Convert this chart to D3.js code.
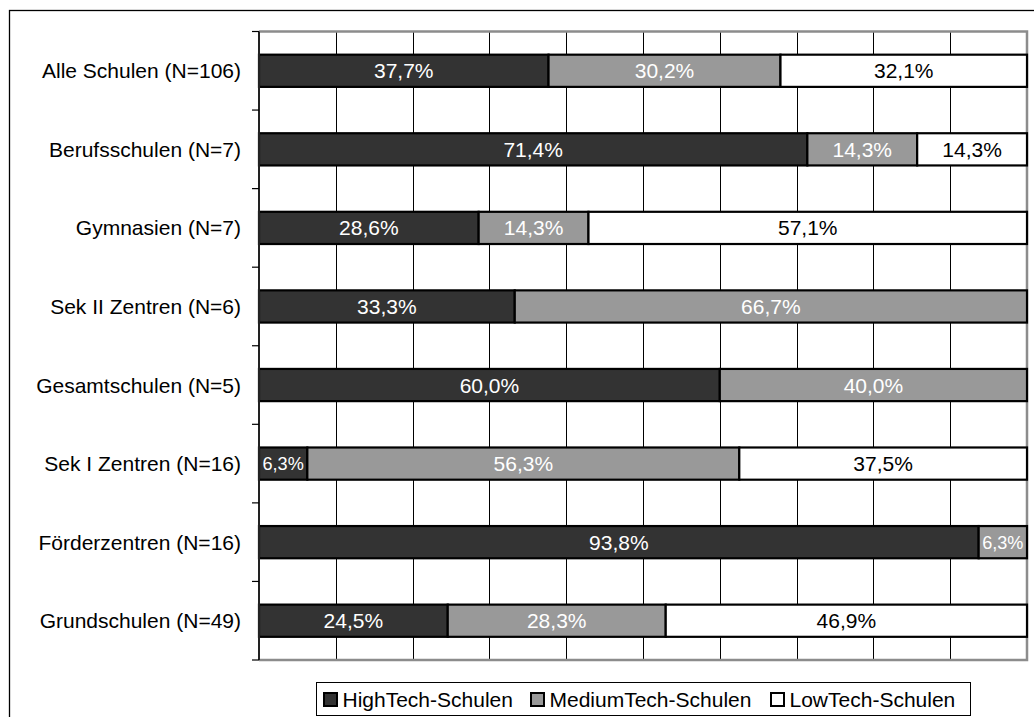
<!DOCTYPE html>
<html>
<head>
<meta charset="utf-8">
<script src="https://cdn.jsdelivr.net/npm/d3@7"></script>
<style>
  html, body { margin: 0; padding: 0; background: #fff; }
  svg { display: block; }
  text { font-family: Arial, "Liberation Sans", sans-serif; }
</style>
</head>
<body>
<svg id="chart" width="1034" height="717"></svg>
<script>
// School types (top to bottom) and share of each technology group in percent
const categories = [
  "Alle Schulen (N=106)",
  "Berufsschulen (N=7)",
  "Gymnasien (N=7)",
  "Sek II Zentren (N=6)",
  "Gesamtschulen (N=5)",
  "Sek I Zentren (N=16)",
  "Förderzentren (N=16)",
  "Grundschulen (N=49)"
];
const seriesNames = ["HighTech-Schulen", "MediumTech-Schulen", "LowTech-Schulen"];
const highTech   = [37.7, 71.4, 28.6, 33.3, 60.0, 6.3, 93.8, 24.5];
const mediumTech = [30.2, 14.3, 14.3, 66.7, 40.0, 56.3, 6.3, 28.3];
const lowTech    = [32.1, 14.3, 57.1, 0, 0, 37.5, 0, 46.9];
const xTicks = [0, 0.1, 0.2, 0.3, 0.4, 0.5, 0.6, 0.7, 0.8, 0.9, 1];

const fills = ["#333333", "#999999", "#ffffff"];
const labelColors = ["#ffffff", "#ffffff", "#000000"];
const FONT = 21;

const rows = categories.map((c, i) => ({
  cat: c,
  [seriesNames[0]]: highTech[i],
  [seriesNames[1]]: mediumTech[i],
  [seriesNames[2]]: lowTech[i]
}));

const svg = d3.select("#chart");
const plot = { left: 259, right: 1027, top: 31.5, bottom: 660 };

// Outer chart frame (runs off the right and bottom edges)
svg.append("rect")
  .attr("x", 9.5).attr("y", 10.5)
  .attr("width", 1060).attr("height", 740)
  .attr("fill", "none").attr("stroke", "#000").attr("stroke-width", 1.3);

const x = d3.scaleLinear().domain([0, 1]).range([plot.left, plot.right]);
const y = d3.scaleBand().domain(categories).range([plot.top, plot.bottom]).paddingInner(0.59).paddingOuter(0.295);
const yEdges = d3.scaleBand().domain(categories).range([plot.top, plot.bottom]);

// Vertical gridlines every 10 %
svg.append("g")
  .selectAll("line")
  .data(xTicks.slice(1, -1))
  .join("line")
  .attr("x1", d => Math.round(x(d)) + 0.5).attr("x2", d => Math.round(x(d)) + 0.5)
  .attr("y1", plot.top).attr("y2", plot.bottom)
  .attr("stroke", "#000").attr("stroke-width", 1);

// Plot area border: top, right, bottom in gray
svg.append("path")
  .attr("d", `M${plot.left},${plot.top}H${plot.right}V${plot.bottom}H${plot.left}`)
  .attr("fill", "none").attr("stroke", "#8c8c8c").attr("stroke-width", 2.5);

// Stacked 100 % bars
const stack = d3.stack().keys(seriesNames).offset(d3.stackOffsetExpand);
const layers = stack(rows);

const layerG = svg.append("g")
  .selectAll("g")
  .data(layers)
  .join("g")
  .attr("fill", (d, i) => fills[i]);

layerG.selectAll("rect")
  .data(d => d.filter(s => s.data[d.key] > 0))
  .join("rect")
  .attr("x", d => x(d[0]))
  .attr("width", d => x(d[1]) - x(d[0]))
  .attr("y", d => y(d.data.cat))
  .attr("height", y.bandwidth())
  .attr("stroke", "#000")
  .attr("stroke-width", 2.2);

// Value labels centred in each segment, shrunk when the segment is narrow
const fmt = v => d3.format(".1f")(v).replace(".", ",") + "%";
layers.forEach((layer, li) => {
  svg.append("g")
    .selectAll("text")
    .data(layer.filter(s => s.data[layer.key] > 0))
    .join("text")
    .attr("x", d => (x(d[0]) + x(d[1])) / 2)
    .attr("y", d => y(d.data.cat) + y.bandwidth() / 2)
    .attr("dy", "0.36em")
    .attr("text-anchor", "middle")
    .attr("fill", labelColors[li])
    .attr("font-size", FONT)
    .text(d => fmt(d.data[layer.key]))
    .each(function (d) {
      const avail = x(d[1]) - x(d[0]) - 7;
      const w = this.getComputedTextLength();
      if (w > avail) d3.select(this).attr("font-size", FONT * avail / w);
    });
});

// Category axis
const yAxis = svg.append("g");
yAxis.append("line")
  .attr("x1", plot.left).attr("x2", plot.left)
  .attr("y1", plot.top).attr("y2", plot.bottom)
  .attr("stroke", "#222").attr("stroke-width", 2);
yAxis.selectAll("line.tick")
  .data(categories.map(c => yEdges(c)).concat([plot.bottom]))
  .join("line")
  .attr("class", "tick")
  .attr("x1", plot.left - 7).attr("x2", plot.left)
  .attr("y1", d => d).attr("y2", d => d)
  .attr("stroke", "#000").attr("stroke-width", 1.2);
yAxis.selectAll("text")
  .data(categories)
  .join("text")
  .attr("x", 241)
  .attr("y", d => y(d) + y.bandwidth() / 2)
  .attr("dy", "0.36em")
  .attr("text-anchor", "end")
  .attr("font-size", FONT)
  .attr("fill", "#000")
  .text(d => d);

// Legend
const legend = svg.append("g");
legend.append("rect")
  .attr("x", 316.5).attr("y", 682.5)
  .attr("width", 654).attr("height", 33)
  .attr("fill", "#fff").attr("stroke", "#000").attr("stroke-width", 1);
const legendX = [324, 531, 771];
seriesNames.forEach((name, i) => {
  legend.append("rect")
    .attr("x", legendX[i]).attr("y", 693)
    .attr("width", 13).attr("height", 13)
    .attr("fill", fills[i]).attr("stroke", "#000").attr("stroke-width", 2);
  legend.append("text")
    .attr("x", legendX[i] + 18.5).attr("y", 699.5)
    .attr("dy", "0.36em")
    .attr("font-size", FONT)
    .attr("fill", "#000")
    .text(name);
});
</script>
</body>
</html>
